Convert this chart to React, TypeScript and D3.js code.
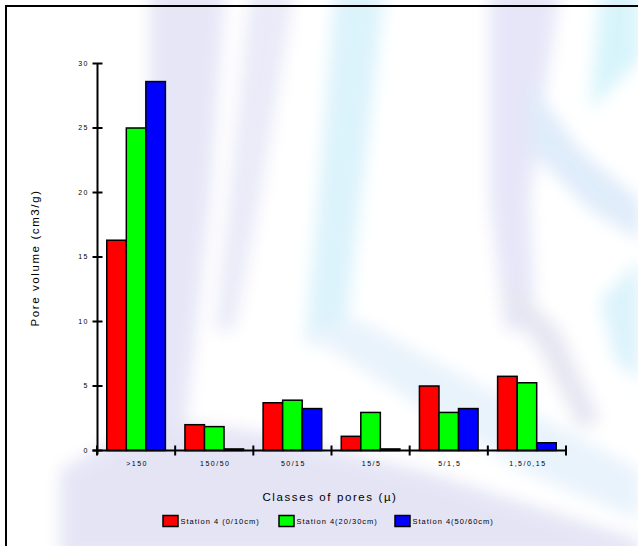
import React from "react";
import * as d3 from "d3";

const categories = [">150", "150/50", "50/15", "15/5", "5/1,5", "1,5/0,15"];
const seriesNames = ["Station 4 (0/10cm)", "Station 4(20/30cm)", "Station 4(50/60cm)"];
const seriesColors = ["#ff0000", "#00ff00", "#0000ff"];
const station0_10 = [16.3, 2.0, 3.7, 1.1, 5.0, 5.75];
const station20_30 = [25.0, 1.85, 3.9, 2.95, 2.95, 5.25];
const station50_60 = [28.6, 0.12, 3.25, 0.12, 3.25, 0.6];
const yTicks = [0, 5, 10, 15, 20, 25, 30];

const seriesValues = [station0_10, station20_30, station50_60];

const W = 638;
const H = 546;
const FONT = "'Liberation Sans', Arial, sans-serif";

export default function App() {
  const x = d3.scaleBand<string>().domain(categories).range([97, 566]).paddingInner(0).paddingOuter(0);
  const bw = x.bandwidth();
  const x1 = d3.scaleBand<string>().domain(seriesNames).range([bw * 0.125, bw * 0.875]).padding(0);
  const y = d3.scaleLinear().domain([0, 30]).range([450.5, 63.5]);

  const boundaries = [...categories.map((c) => x(c) as number), x.range()[1]];

  return (
    <svg width={W} height={H} style={{ position: "absolute", left: 0, top: 0, background: "#fff" }}>
      <defs>
        <filter id="blur" x="-20%" y="-20%" width="140%" height="140%">
          <feGaussianBlur stdDeviation="8" />
        </filter>
      </defs>
      {/* faint watermark background */}
      <g filter="url(#blur)" opacity={0.7}>
        <path d="M150,-10 L225,-10 L210,200 L185,430 L130,440 L150,220 Z" fill="#dcdcf4" />
        <path d="M250,-10 L295,-10 L260,200 L235,330 L215,330 Z" fill="#e2e2f6" />
        <path d="M335,-10 L385,-10 L355,250 L345,340 L305,345 L318,200 Z" fill="#cdeefa" />
        <path d="M150,420 L250,430 L420,470 L640,540 L640,560 L60,560 L60,470 Z" fill="#dadaf2" />
        <path d="M300,330 L360,320 L470,380 L640,470 L640,520 L520,470 Z" fill="#e0eefa" />
        <path d="M490,-10 L560,-10 L545,90 L530,200 L535,330 L505,330 L490,200 Z" fill="#dcdcf6" />
        <path d="M530,80 L580,150 L640,200 L640,240 L590,210 L530,150 Z" fill="#d2e4f8" />
        <path d="M600,-10 L640,-10 L640,60 L590,110 Z" fill="#c8f0fa" />
        <path d="M510,280 L560,330 L600,420 L580,430 L540,350 L500,300 Z" fill="#dcdcec" />
        <path d="M600,300 L640,260 L640,380 L615,360 Z" fill="#cdeefa" />
      </g>

      {/* frame */}
      <rect x={6} y={6} width={W + 10} height={H + 10} fill="none" stroke="#000" strokeWidth={2} />

      {/* bars */}
      {categories.map((c, ci) => (
        <g key={c} transform={`translate(${x(c)},0)`}>
          {seriesNames.map((s, si) => {
            const v = seriesValues[si][ci];
            const top = y(v);
            return (
              <rect
                key={s}
                x={x1(s)}
                y={top}
                width={x1.bandwidth()}
                height={y(0) - top}
                fill={seriesColors[si]}
                stroke="#000"
                strokeWidth={1.5}
              />
            );
          })}
        </g>
      ))}

      {/* y axis */}
      <line x1={97.5} x2={97.5} y1={y(0) + 4} y2={y(30)} stroke="#000" strokeWidth={2} />
      {yTicks.map((t) => (
        <g key={t}>
          <line x1={92.5} x2={102.5} y1={y(t)} y2={y(t)} stroke="#000" strokeWidth={2} />
          <text
            x={89}
            y={y(t)}
            dy="0.35em"
            textAnchor="end"
            fontFamily={FONT}
            fontSize={7}
            letterSpacing={1.5}
            fill="#000"
          >
            {t}
          </text>
        </g>
      ))}

      {/* x axis */}
      <line x1={92.5} x2={566} y1={y(0)} y2={y(0)} stroke="#000" strokeWidth={2} />
      {boundaries.map((b, i) => (
        <line key={i} x1={b} x2={b} y1={y(0) - 5} y2={y(0) + 5} stroke="#000" strokeWidth={2} />
      ))}
      {categories.map((c) => (
        <text
          key={c}
          x={(x(c) as number) + bw / 2 + 1}
          y={466}
          textAnchor="middle"
          fontFamily={FONT}
          fontSize={7}
          letterSpacing={1.5}
          fill="#000"
        >
          {c}
        </text>
      ))}

      {/* axis titles */}
      <text
        x={330}
        y={501}
        textAnchor="middle"
        fontFamily={FONT}
        fontSize={11.5}
        letterSpacing={1.6}
        fill="#000"
      >
        Classes of pores (µ)
      </text>
      <text
        transform={`translate(39,258) rotate(-90)`}
        textAnchor="middle"
        fontFamily={FONT}
        fontSize={11.5}
        letterSpacing={1.6}
        fill="#000"
      >
        Pore volume (cm3/g)
      </text>

      {/* legend */}
      {seriesNames.map((s, i) => {
        const lx = [163, 279, 395][i];
        return (
          <g key={s}>
            <rect x={lx} y={515.5} width={15} height={11} fill={seriesColors[i]} stroke="#000" strokeWidth={1.5} />
            <text
              x={lx + 17.5}
              y={521}
              dy="0.35em"
              fontFamily={FONT}
              fontSize={7.5}
              letterSpacing={1.0}
              fill="#000"
            >
              {s}
            </text>
          </g>
        );
      })}
    </svg>
  );
}
